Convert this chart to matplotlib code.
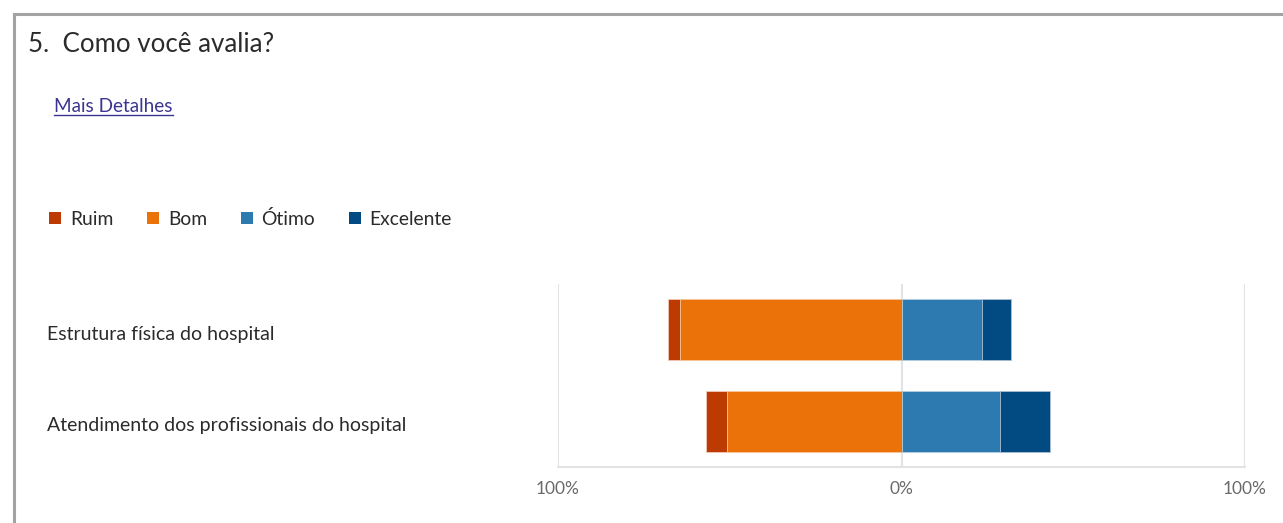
import matplotlib.pyplot as plt
import numpy as np
from matplotlib.lines import Line2D
from matplotlib.transforms import ScaledTranslation

# diverging stacked bar: Ruim/Bom to the left, Otimo/Excelente to the right
categories = ["Estrutura física do hospital", "Atendimento dos profissionais do hospital"]
ruim = [3.5, 6.2]
bom = [64.5, 50.7]
otimo = [23.4, 28.8]
excelente = [8.6, 14.3]
series_names = ["Ruim", "Bom", "Ótimo", "Excelente"]
tick_vals = [-100, 0, 100]
tick_labels = ["100%", "0%", "100%"]

colors = ["#BD3B02", "#EA7208", "#2C7AB0", "#024A82"]
W, H = 1283, 523

plt.rcParams['font.family'] = ['Lato', 'DejaVu Sans']
fig = plt.figure(figsize=(W/100, H/100), dpi=100)

ax = fig.add_axes([558/W, 1 - 467/H, (1245-558)/W, (467-284)/H])

y = np.arange(len(categories))
ruim = np.array(ruim); bom = np.array(bom)
otimo = np.array(otimo); excelente = np.array(excelente)
h = 0.667
b1 = ax.barh(y, ruim, left=-(ruim+bom), height=h, color=colors[0], edgecolor='#f3d0c0', lw=0.5, zorder=3)
b2 = ax.barh(y, bom, left=-bom, height=h, color=colors[1], edgecolor='#f7c99c', lw=0.5, zorder=3)
b3 = ax.barh(y, otimo, left=0, height=h, color=colors[2], edgecolor='#b9d3e6', lw=0.5, zorder=3)
b4 = ax.barh(y, excelente, left=otimo, height=h, color=colors[3], edgecolor='#b0c4d8', lw=0.5, zorder=3)

ax.set_xlim(-100, 100)
ax.set_ylim(1.5, -0.5)
for v in tick_vals:
    ax.axvline(v, color='#e3e3e3', lw=1.5, zorder=1)
for s in ['top', 'left', 'right']:
    ax.spines[s].set_visible(False)
ax.spines['bottom'].set_color('#e3e3e3')
ax.spines['bottom'].set_linewidth(1.5)

ax.set_xticks(tick_vals, tick_labels, color='#6a6a6a', fontsize=12.5)
ax.tick_params(axis='x', length=0, pad=10)
ax.set_yticks(y, categories, fontsize=14, color='#2b2b2b', ha='left')
ax.tick_params(axis='y', length=0, pad=(558-47)*0.72)
for lab in ax.get_yticklabels():
    lab.set_transform(lab.get_transform() + ScaledTranslation(0, -3/100, fig.dpi_scale_trans))

# title and link
fig.text(28/W, 1 - 45/H, "5.  Como você avalia?", fontsize=18.6, color='#2b2b2b', va='center', ha='left')
link = fig.text(54/W, 1 - 107/H, "Mais Detalhes", fontsize=13.6, color='#3b3591', va='center', ha='left')

leg = fig.legend([b1, b2, b3, b4], series_names, loc='center left',
                 bbox_to_anchor=(32/W, 1 - 219/H), ncol=4, frameon=False,
                 handlelength=0.62, handleheight=0.62, handletextpad=0.45,
                 columnspacing=1.75, fontsize=13.9, labelcolor='#2b2b2b')
for p in leg.get_patches():
    p.set_edgecolor('none')

# frame lines (top and left)
fig.add_artist(Line2D([14/W, 1], [1 - 14/H, 1 - 14/H], color='#a3a3a3', lw=2.2, transform=fig.transFigure))
fig.add_artist(Line2D([14/W, 14/W], [0, 1 - 14/H], color='#a3a3a3', lw=2.2, transform=fig.transFigure))

# underline the link
fig.canvas.draw()
bb = link.get_window_extent().transformed(fig.transFigure.inverted())
fig.add_artist(Line2D([bb.x0, bb.x1], [bb.y0 + 1/H, bb.y0 + 1/H], color='#3b3591', lw=1, transform=fig.transFigure))

fig.savefig("out.png", dpi=100)
